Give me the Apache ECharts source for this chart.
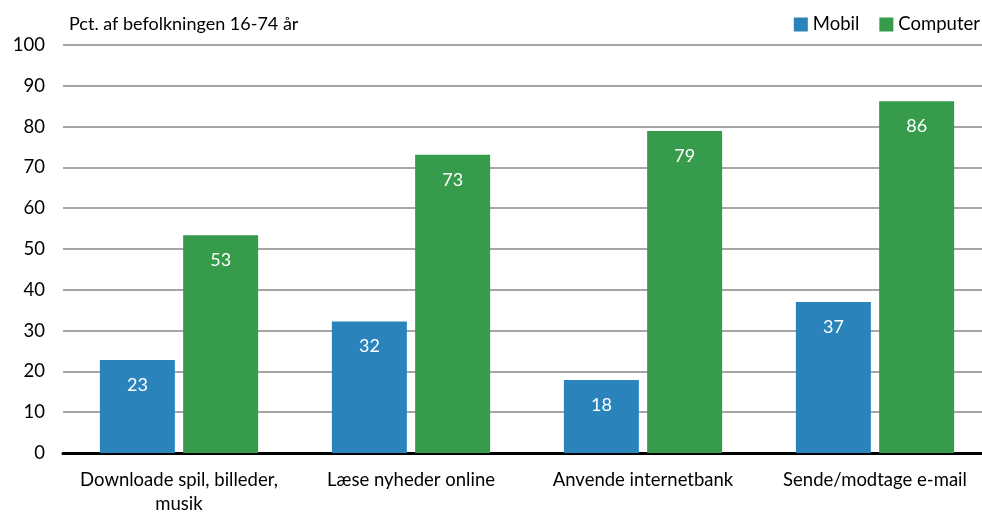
<!DOCTYPE html>
<html>
<head>
<meta charset="utf-8">
<script src="https://cdn.jsdelivr.net/npm/echarts@6/dist/echarts.min.js"></script>
<style>
  html, body { margin: 0; padding: 0; background: #fff; }
  #main { width: 982px; height: 512px; }
</style>
</head>
<body>
<div id="main"></div>
<script>
const categories = ['Downloade spil, billeder,\nmusik', 'Læse nyheder online', 'Anvende internetbank', 'Sende/modtage e-mail']
const mobil = [22.8, 32.2, 17.9, 37.0]
const computer = [53.4, 73.1, 78.9, 86.2]
const yTicks = [0, 10, 20, 30, 40, 50, 60, 70, 80, 90, 100]

const font = 'Lato'
const chart = echarts.init(document.getElementById('main'))

const labelStyle = {
  show: true,
  position: 'insideTop',
  distance: 16,
  color: '#fff',
  fontFamily: font,
  fontSize: 18,
  formatter: p => Math.round(p.value)
}

const option = {
  animation: false,
  textStyle: { fontFamily: font },
  title: {
    text: 'Pct. af befolkningen 16-74 år',
    left: 64,
    top: 10,
    textStyle: { fontFamily: font, fontSize: 18, fontWeight: 'normal', color: '#000' }
  },
  legend: {
    right: -3,
    top: 10,
    itemWidth: 14,
    itemHeight: 14,
    itemGap: 20,
    icon: 'rect',
    textStyle: { fontFamily: font, fontSize: 18.5, color: '#000', padding: [0, 0, 0, 0] },
    data: ['Mobil', 'Computer']
  },
  grid: { left: 63, right: -9, top: 45, bottom: 59, outerBoundsMode: 'none', containLabel: false },
  xAxis: {
    type: 'category',
    data: categories,
    axisLine: { lineStyle: { color: '#000', width: 3 } },
    axisTick: { show: false },
    axisLabel: { fontFamily: font, fontSize: 18.5, color: '#000', margin: 15, lineHeight: 24, interval: 0 }
  },
  yAxis: {
    type: 'value',
    min: yTicks[0],
    max: yTicks[yTicks.length - 1],
    interval: 10,
    axisLine: { show: false },
    axisTick: { show: false },
    axisLabel: { fontFamily: font, fontSize: 18.5, color: '#000', margin: 18 },
    splitLine: { lineStyle: { color: '#a6a6a6', width: 2 } }
  },
  series: [
    {
      name: 'Mobil',
      type: 'bar',
      data: mobil,
      barWidth: 75,
      barGap: '11%',
      itemStyle: { color: '#2a84bb' },
      label: labelStyle
    },
    {
      name: 'Computer',
      type: 'bar',
      data: computer,
      barWidth: 75,
      itemStyle: { color: '#369b4a' },
      label: labelStyle
    }
  ]
}

chart.setOption(option)
</script>
</body>
</html>
